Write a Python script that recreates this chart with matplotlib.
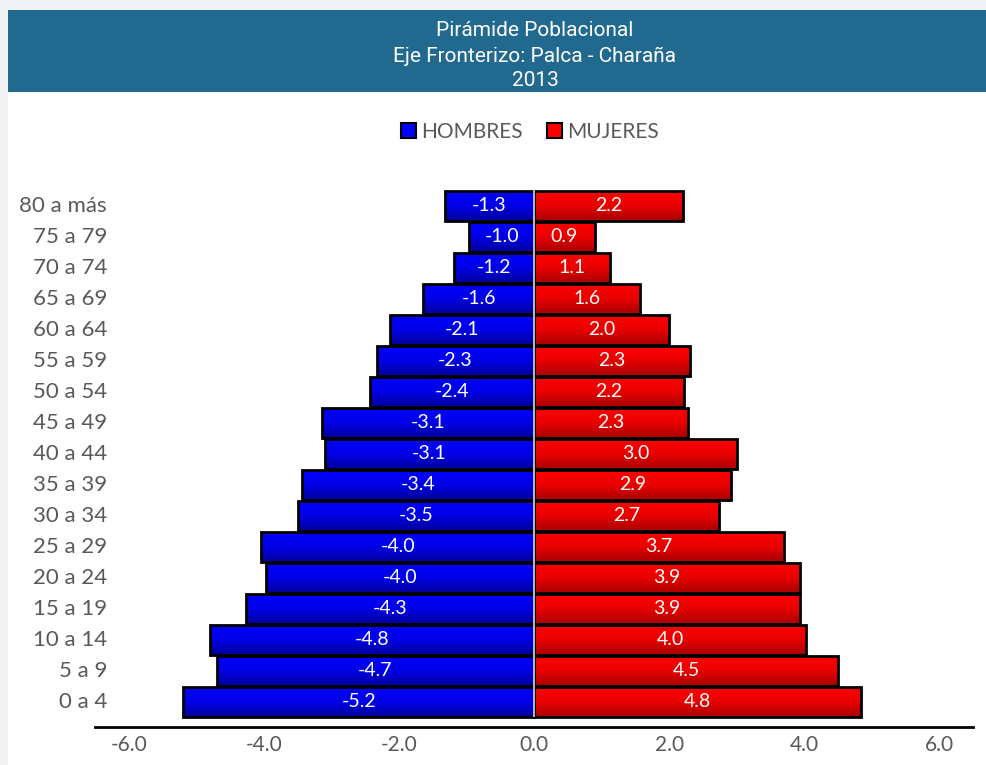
import numpy as np
import matplotlib.pyplot as plt
from matplotlib.patches import Rectangle, Patch
from matplotlib.colors import LinearSegmentedColormap

# datos de la piramide (porcentaje de la poblacion)
grupos = ['0 a 4', '5 a 9', '10 a 14', '15 a 19', '20 a 24', '25 a 29', '30 a 34',
          '35 a 39', '40 a 44', '45 a 49', '50 a 54', '55 a 59', '60 a 64',
          '65 a 69', '70 a 74', '75 a 79', '80 a más']
hombres = [-5.19, -4.70, -4.80, -4.27, -3.97, -4.04, -3.50, -3.44, -3.10, -3.14,
           -2.43, -2.33, -2.13, -1.64, -1.19, -0.96, -1.32]
mujeres = [4.84, 4.50, 4.03, 3.94, 3.94, 3.70, 2.74, 2.92, 3.01, 2.28,
           2.22, 2.31, 2.00, 1.57, 1.13, 0.90, 2.21]
ticks_x = [-6, -4, -2, 0, 2, 4, 6]

W, H = 987, 765
fig = plt.figure(figsize=(W / 100, H / 100), dpi=100)
fig.patch.set_facecolor('#f1f2f4')
fig.patches.append(Rectangle((8 / W, 0), 1, 1 - 10 / H, transform=fig.transFigure,
                             facecolor='white', zorder=-2))
fig.patches.append(Rectangle((8 / W, 1 - 92 / H), 1, 82 / H, transform=fig.transFigure,
                             facecolor='#226990', zorder=-1))

titulos = ['Pirámide Poblacional', 'Eje Fronterizo: Palca - Charaña', '2013']
for i, t in enumerate(titulos):
    fig.text(535 / W, 1 - (31 + 25 * i) / H, t, color='white', ha='center', va='center',
             fontsize=15, family='Roboto')

ax = fig.add_axes([95 / W, 38 / H, 878 / W, 547 / H])
ax.set_facecolor('none')

cmap_azul = LinearSegmentedColormap.from_list('az', ['#00009a', '#0000e6', '#0000ff'])
cmap_rojo = LinearSegmentedColormap.from_list('ro', ['#a80000', '#e80000', '#ff0000'])
grad = np.linspace(0, 1, 60).reshape(-1, 1)

y = np.arange(len(grupos))
for vals, cm in [(hombres, cmap_azul), (mujeres, cmap_rojo)]:
    bars = ax.barh(y, vals, height=0.96, color='none', edgecolor='black', linewidth=2, zorder=2)
    for b in bars:
        x0, y0, w, h = b.get_x(), b.get_y(), b.get_width(), b.get_height()
        im = ax.imshow(grad, cmap=cm, extent=[x0, x0 + w, y0, y0 + h], aspect='auto',
                       origin='lower', zorder=1, interpolation='bilinear')
        im.set_clip_path(b)
    for i, v in enumerate(vals):
        ax.text(v / 2, i, f'{v:.1f}', color='white', ha='center', va='center',
                fontsize=14, family='Lato', zorder=4)

ax.vlines(0, -0.5, len(grupos) - 0.5, color='#dddddd', linewidth=1.2, zorder=3)

ax.set_xlim(-6.5, 6.5)
ax.set_ylim(-0.81, 16.83)
ax.set_xticks(ticks_x)
ax.set_xticklabels([f'{t:.1f}' for t in ticks_x], family='Lato', fontsize=15, color='#595959')
ax.tick_params(axis='x', length=0, pad=6)
ax.set_yticks([])
for i, g in enumerate(grupos):
    ax.text((107 - 95) / 878, i, g, transform=ax.get_yaxis_transform(), ha='right', va='center',
            family='Lato', fontsize=16, color='#595959')

for s in ['top', 'right', 'left']:
    ax.spines[s].set_visible(False)
ax.spines['bottom'].set_linewidth(2)
ax.spines['bottom'].set_color('black')

handles = [Patch(facecolor='#0000ff', edgecolor='black', linewidth=1.5, label='HOMBRES'),
           Patch(facecolor='#ff0000', edgecolor='black', linewidth=1.5, label='MUJERES')]
leg = fig.legend(handles=handles, loc='center', bbox_to_anchor=(530 / W, 1 - 132 / H), ncol=2,
                 frameon=False, handlelength=0.7, handleheight=0.7, handletextpad=0.25,
                 columnspacing=1.2, prop={'family': 'Lato', 'size': 15})
for t in leg.get_texts():
    t.set_color('#595959')

fig.savefig('out.png', dpi=100, facecolor=fig.get_facecolor())
